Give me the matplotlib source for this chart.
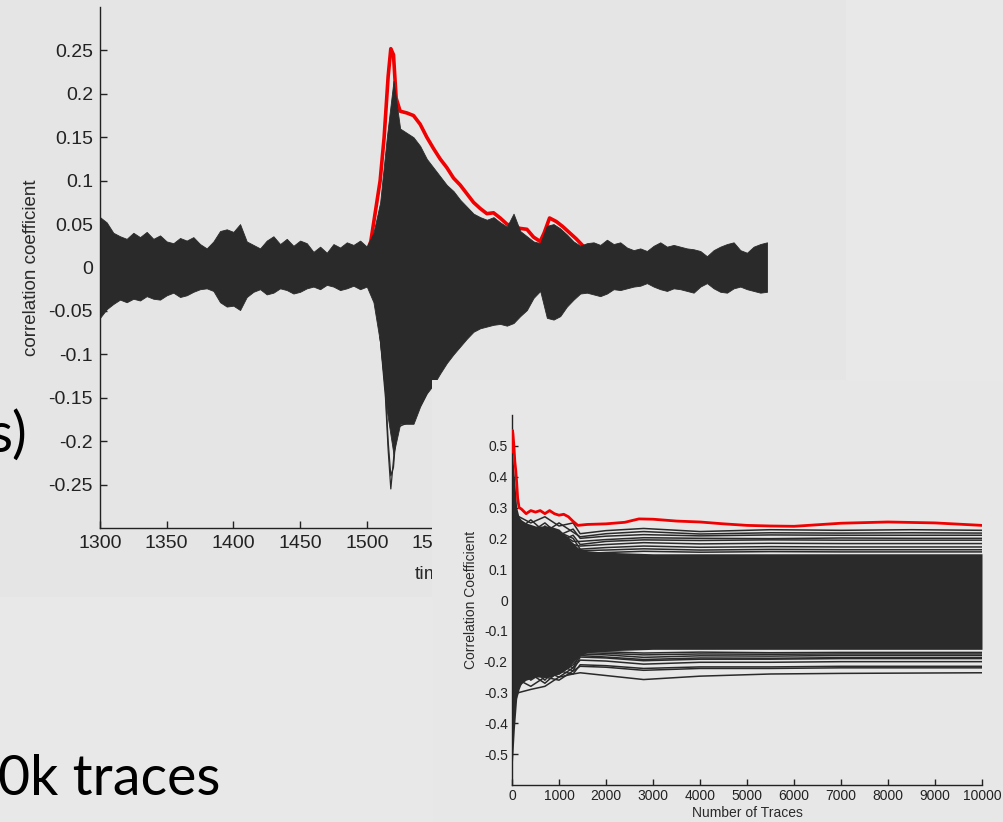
import matplotlib.pyplot as plt
import numpy as np

# ---------------- top plot: correlation vs time ----------------
t_grid = np.arange(1300, 1801, 5)
upper_env = [0.058, 0.052, 0.040, 0.036, 0.033, 0.040, 0.035, 0.041, 0.033, 0.037,
             0.030, 0.028, 0.034, 0.031, 0.035, 0.027, 0.022, 0.030, 0.042, 0.044,
             0.041, 0.050, 0.030, 0.026, 0.022, 0.031, 0.036, 0.027, 0.033, 0.025,
             0.031, 0.028, 0.018, 0.024, 0.017, 0.027, 0.023, 0.029, 0.026, 0.031,
             0.024, 0.040, 0.075, 0.150, 0.215, 0.160, 0.155, 0.150, 0.140, 0.125,
             0.115, 0.105, 0.095, 0.088, 0.078, 0.070, 0.062, 0.058, 0.055, 0.058,
             0.052, 0.047, 0.062, 0.042, 0.036, 0.030, 0.028, 0.048, 0.050, 0.045,
             0.038, 0.030, 0.025, 0.028, 0.029, 0.026, 0.032, 0.027, 0.029, 0.023,
             0.020, 0.022, 0.019, 0.025, 0.029, 0.024, 0.026, 0.024, 0.022, 0.021,
             0.019, 0.013, 0.020, 0.024, 0.027, 0.029, 0.020, 0.017, 0.024, 0.027,
             0.029]
lower_env = [-0.058, -0.048, -0.042, -0.037, -0.040, -0.036, -0.038, -0.033, -0.036, -0.037,
             -0.032, -0.029, -0.034, -0.032, -0.028, -0.025, -0.024, -0.027, -0.040, -0.045,
             -0.044, -0.049, -0.034, -0.028, -0.025, -0.031, -0.029, -0.024, -0.026, -0.030,
             -0.028, -0.024, -0.022, -0.025, -0.020, -0.022, -0.026, -0.024, -0.021, -0.025,
             -0.022, -0.040, -0.087, -0.165, -0.215, -0.180, -0.180, -0.180, -0.160, -0.145,
             -0.135, -0.122, -0.110, -0.100, -0.091, -0.082, -0.074, -0.070, -0.068, -0.066,
             -0.065, -0.067, -0.064, -0.056, -0.049, -0.035, -0.027, -0.058, -0.060, -0.056,
             -0.045, -0.037, -0.030, -0.029, -0.031, -0.033, -0.030, -0.025, -0.026, -0.024,
             -0.022, -0.021, -0.018, -0.022, -0.025, -0.027, -0.024, -0.025, -0.027, -0.029,
             -0.022, -0.018, -0.024, -0.028, -0.029, -0.024, -0.022, -0.025, -0.027, -0.029,
             -0.028]

# thin traces reaching below the dense mass at the leak
needle_t = [1510, 1514, 1516, 1518, 1520, 1522, 1526, 1532, 1538, 1545]
needle_a = [-0.08, -0.15, -0.21, -0.255, -0.222, -0.185, -0.182, -0.178, -0.165, -0.145]
needle_b = [-0.08, -0.14, -0.20, -0.240, -0.230, -0.190, -0.175, -0.170, -0.158, -0.140]

red_t = [1300, 1320, 1340, 1360, 1380, 1385, 1390, 1400, 1405, 1410, 1420, 1440, 1460,
         1480, 1495, 1500, 1503, 1507, 1510, 1513, 1516, 1518, 1520, 1522, 1525, 1530,
         1535, 1540, 1545, 1550, 1555, 1560, 1565, 1570, 1575, 1580, 1585, 1590, 1595,
         1600, 1605, 1610, 1615, 1620, 1625, 1630, 1633, 1637, 1642, 1647, 1652, 1657,
         1662, 1667, 1680, 1700, 1720, 1740, 1760, 1780, 1800]
red_v = [0.010, 0.012, 0.008, 0.010, 0.015, 0.020, 0.018, 0.020, 0.030, 0.022, 0.010,
         0.012, 0.010, 0.008, 0.010, 0.018, 0.030, 0.070, 0.100, 0.150, 0.220, 0.252,
         0.245, 0.195, 0.180, 0.178, 0.175, 0.165, 0.150, 0.137, 0.125, 0.115, 0.103,
         0.095, 0.085, 0.075, 0.068, 0.062, 0.063, 0.057, 0.050, 0.047, 0.045, 0.044,
         0.035, 0.030, 0.040, 0.057, 0.053, 0.047, 0.040, 0.033, 0.025, 0.020, 0.015,
         0.012, 0.010, 0.010, 0.008, 0.010, 0.010]

top_xticks = [1300, 1350, 1400, 1450, 1500, 1550]
top_yticks = [-0.25, -0.2, -0.15, -0.1, -0.05, 0, 0.05, 0.1, 0.15, 0.2, 0.25]

# ---------------- bottom plot: correlation vs number of traces ----------------
core_n = [0, 20, 50, 100, 150, 200, 300, 500, 800, 1000, 1200, 1400, 1600, 2000, 3000, 4000, 6000, 8000, 10000]
core_up = [0.48, 0.46, 0.40, 0.30, 0.27, 0.26, 0.25, 0.24, 0.24, 0.23, 0.20, 0.17, 0.16, 0.155, 0.15, 0.15, 0.15, 0.15, 0.15]
core_lo = [-0.55, -0.50, -0.42, -0.32, -0.29, -0.27, -0.26, -0.25, -0.25, -0.24, -0.22, -0.185, -0.17, -0.165, -0.16, -0.16, -0.16, -0.16, -0.16]

line_n = [150, 400, 700, 1000, 1300, 1450, 2000, 2800, 4000, 5500, 7000, 8500, 10000]
upper_lines = [
    [0.27, 0.25, 0.27, 0.24, 0.25, 0.215, 0.225, 0.232, 0.222, 0.228, 0.226, 0.228, 0.226],
    [0.23, 0.26, 0.22, 0.25, 0.22, 0.205, 0.215, 0.222, 0.214, 0.218, 0.217, 0.218, 0.217],
    [0.20, 0.22, 0.25, 0.21, 0.23, 0.200, 0.207, 0.212, 0.208, 0.211, 0.210, 0.210, 0.210],
    [0.25, 0.20, 0.23, 0.22, 0.19, 0.190, 0.196, 0.202, 0.200, 0.199, 0.201, 0.200, 0.200],
    [0.18, 0.23, 0.20, 0.19, 0.21, 0.180, 0.190, 0.195, 0.193, 0.195, 0.194, 0.194, 0.194],
    [0.22, 0.19, 0.24, 0.20, 0.18, 0.175, 0.180, 0.186, 0.182, 0.184, 0.183, 0.183, 0.183],
    [0.19, 0.21, 0.18, 0.22, 0.20, 0.165, 0.170, 0.175, 0.171, 0.173, 0.172, 0.172, 0.172],
    [0.24, 0.17, 0.20, 0.18, 0.17, 0.160, 0.162, 0.166, 0.162, 0.164, 0.163, 0.163, 0.163],
    [0.16, 0.20, 0.17, 0.19, 0.16, 0.150, 0.154, 0.158, 0.155, 0.157, 0.156, 0.156, 0.156],
]
lower_lines = [
    [-0.20, -0.22, -0.18, -0.20, -0.19, -0.165, -0.168, -0.172, -0.169, -0.171, -0.170, -0.170, -0.170],
    [-0.18, -0.23, -0.20, -0.22, -0.19, -0.170, -0.173, -0.178, -0.175, -0.176, -0.175, -0.175, -0.175],
    [-0.25, -0.20, -0.24, -0.20, -0.22, -0.175, -0.178, -0.186, -0.181, -0.182, -0.180, -0.180, -0.180],
    [-0.21, -0.25, -0.22, -0.24, -0.21, -0.180, -0.185, -0.193, -0.188, -0.189, -0.187, -0.187, -0.187],
    [-0.27, -0.22, -0.26, -0.21, -0.23, -0.185, -0.188, -0.197, -0.192, -0.192, -0.190, -0.190, -0.190],
    [-0.22, -0.26, -0.23, -0.25, -0.22, -0.195, -0.198, -0.208, -0.202, -0.202, -0.200, -0.200, -0.200],
    [-0.28, -0.24, -0.27, -0.23, -0.24, -0.210, -0.213, -0.222, -0.217, -0.217, -0.215, -0.215, -0.215],
    [-0.26, -0.28, -0.25, -0.26, -0.23, -0.215, -0.218, -0.228, -0.222, -0.222, -0.220, -0.220, -0.220],
    [-0.30, -0.29, -0.28, -0.25, -0.24, -0.236, -0.245, -0.258, -0.247, -0.240, -0.238, -0.237, -0.236],
]

red2_n = [0, 10, 20, 40, 60, 80, 100, 120, 150, 200, 300, 400, 500, 600, 700, 800, 900, 1000,
          1100, 1200, 1300, 1400, 1600, 2000, 2400, 2700, 3000, 3500, 4000, 4500, 5000, 5500,
          6000, 7000, 8000, 9000, 10000]
red2_v = [0.48, 0.55, 0.54, 0.50, 0.45, 0.42, 0.38, 0.33, 0.30, 0.295, 0.28, 0.29, 0.285,
          0.29, 0.28, 0.29, 0.28, 0.275, 0.278, 0.27, 0.255, 0.242, 0.245, 0.247, 0.252,
          0.263, 0.262, 0.256, 0.253, 0.247, 0.242, 0.24, 0.239, 0.249, 0.253, 0.25, 0.242]

bot_xticks = [0, 1000, 2000, 3000, 4000, 5000, 6000, 7000, 8000, 9000, 10000]
bot_yticks = [-0.5, -0.4, -0.3, -0.2, -0.1, 0, 0.1, 0.2, 0.3, 0.4, 0.5]

# ---------------- drawing ----------------
BG = '#e5e5e5'
INK = '#2a2a2a'
RED = '#f00000'
W, H = 1004, 822

plt.rcParams['font.family'] = ['Liberation Sans', 'DejaVu Sans']
fig = plt.figure(figsize=(W / 100, H / 100), dpi=100, facecolor=BG)


def px_rect(x0, y0, x1, y1):
    return [x0 / W, 1 - y1 / H, (x1 - x0) / W, (y1 - y0) / H]


def matlab_axes(ax):
    ax.set_facecolor('none')
    for s in ['top', 'right']:
        ax.spines[s].set_visible(False)
    for s in ['left', 'bottom']:
        ax.spines[s].set_color('#222222')
        ax.spines[s].set_linewidth(1.0)


# faint slide panels
fig.patches.append(plt.Rectangle((846 / W, 1 - 380 / H), 1, 1, transform=fig.transFigure,
                                 color='#e8e8e8', zorder=0))
fig.patches.append(plt.Rectangle((0, 0), 432 / W, 1 - 597 / H, transform=fig.transFigure,
                                 color='#e8e8e8', zorder=0))

# slide text
fig.text(27 / W, 1 - 452 / H, 's)', fontsize=40, family='Lato', ha='right', va='baseline', color='black')
fig.text(220 / W, 1 - 795 / H, '0k traces', fontsize=40, family='Lato', ha='right',
         va='baseline', color='black')

ax1 = fig.add_axes(px_rect(100, 7, 767, 528))
matlab_axes(ax1)
ax1.fill_between(t_grid, lower_env, upper_env, color=INK, lw=0.6, edgecolor=INK, zorder=2)
ax1.plot(needle_t, needle_a, color=INK, lw=0.9, zorder=2)
ax1.plot(needle_t, needle_b, color=INK, lw=0.9, zorder=2)
ax1.plot(red_t, red_v, color=RED, lw=2.6, zorder=1)
ax1.set_xlim(1300, 1800)
ax1.set_ylim(-0.3, 0.3)
ax1.set_xticks(top_xticks)
ax1.set_xticklabels([str(v) for v in top_xticks])
ax1.set_yticks(top_yticks)
ax1.set_yticklabels(['%g' % v for v in top_yticks])
ax1.tick_params(direction='in', length=5, width=1, colors='#222222', labelsize=14, pad=5)
ax1.set_ylabel('correlation coefficient', fontsize=13.5, color='#2a2a2a', labelpad=6)
ax1.set_xlabel('time', fontsize=14, color='#2a2a2a', labelpad=4)
ax1.xaxis.set_label_coords(0.5, -0.072)

# second figure panel on top of the first
ax_bg = fig.add_axes(px_rect(432, 380, W, H))
ax_bg.set_axis_off()
ax_bg.add_patch(plt.Rectangle((0, 0), 1, 1, transform=ax_bg.transAxes, color='#e7e7e7'))

ax2 = fig.add_axes(px_rect(512, 415, 982, 785))
matlab_axes(ax2)
ax2.fill_between(core_n, core_lo, core_up, color=INK, lw=0, zorder=2)
for vals in upper_lines + lower_lines:
    ax2.plot(line_n, vals, color=INK, lw=1.1, zorder=2)
ax2.plot(red2_n, red2_v, color=RED, lw=2.0, zorder=3)
ax2.set_xlim(0, 10000)
ax2.set_ylim(-0.6, 0.6)
ax2.set_xticks(bot_xticks)
ax2.set_xticklabels([str(v) for v in bot_xticks])
ax2.set_yticks(bot_yticks)
ax2.set_yticklabels(['%g' % v for v in bot_yticks])
ax2.tick_params(direction='in', length=4, width=1, colors='#222222', labelsize=10, pad=3)
ax2.set_ylabel('Correlation Coefficient', fontsize=10, color='#2a2a2a', labelpad=4)
ax2.set_xlabel('Number of Traces', fontsize=10, color='#2a2a2a', labelpad=2)

fig.savefig('out.png', dpi=100, facecolor=BG)
